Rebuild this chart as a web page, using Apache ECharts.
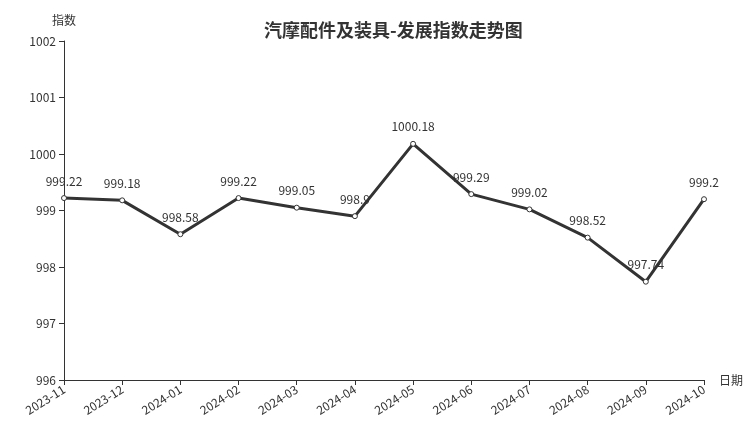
<!DOCTYPE html>
<html>
<head>
<meta charset="utf-8">
<script src="https://cdn.jsdelivr.net/npm/echarts@6/dist/echarts.min.js"></script>
<style>
  html, body { margin: 0; padding: 0; background: #fff; }
  #chart { width: 752px; height: 427px; }
</style>
</head>
<body>
<div id="chart"></div>
<script>
const months = ['2023-11', '2023-12', '2024-01', '2024-02', '2024-03', '2024-04',
  '2024-05', '2024-06', '2024-07', '2024-08', '2024-09', '2024-10']
const indexValues = [999.22, 999.18, 998.58, 999.22, 999.05, 998.9,
  1000.18, 999.29, 999.02, 998.52, 997.74, 999.2]

const font = '"Noto Sans CJK SC", "Noto Sans", sans-serif'
const myChart = echarts.init(document.getElementById('chart'))

myChart.setOption({
  textStyle: { fontFamily: font },
  title: {
    text: '汽摩配件及装具-发展指数走势图',
    left: 259,
    top: 16,
    textStyle: { fontSize: 18, fontWeight: 'bold', color: '#333', fontFamily: font }
  },
  grid: { left: 64, right: 48, top: 41, bottom: 47 },
  xAxis: {
    type: 'category',
    data: months,
    boundaryGap: false,
    name: '日期',
    nameGap: 15,
    nameTextStyle: { color: '#333', fontSize: 12 },
    axisLine: { lineStyle: { color: '#333' } },
    axisTick: { alignWithLabel: true, lineStyle: { color: '#333' } },
    axisLabel: { rotate: 32, color: '#333', fontSize: 12, interval: 0 }
  },
  yAxis: {
    type: 'value',
    min: 996,
    max: 1002,
    interval: 1,
    name: '指数',
    nameGap: 15,
    nameTextStyle: { color: '#333', fontSize: 12 },
    axisLine: { show: true, lineStyle: { color: '#333' } },
    axisTick: { show: true, lineStyle: { color: '#333' } },
    axisLabel: { color: '#333', fontSize: 12, formatter: v => String(v) },
    splitLine: { show: false }
  },
  series: [{
    type: 'line',
    data: indexValues,
    symbol: 'circle',
    symbolSize: 5,
    lineStyle: { color: '#333', width: 3 },
    itemStyle: { color: '#fff', borderColor: '#333', borderWidth: 1 },
    label: { show: true, position: 'top', color: '#333', fontSize: 12, distance: 8 }
  }]
})
</script>
</body>
</html>
